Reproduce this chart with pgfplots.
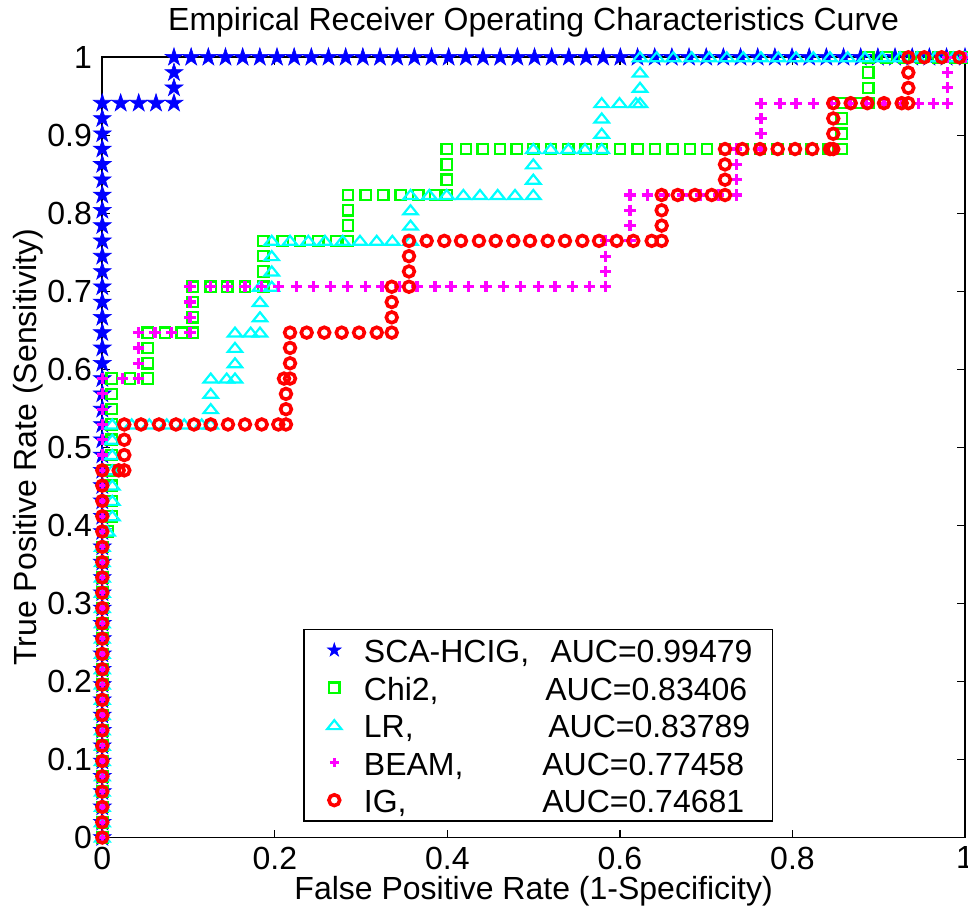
\documentclass[border=0pt]{standalone}
\usepackage{fontspec}
\setmainfont{Liberation Sans}
\usepackage{pgfplots}
\pgfplotsset{compat=1.18}
\usepackage{pgfplotstable}

\definecolor{mblue}{rgb}{0,0,1}
\definecolor{mgreen}{rgb}{0,1,0}
\definecolor{mcyan}{rgb}{0,1,1}
\definecolor{mmagenta}{rgb}{1,0,1}
\definecolor{mred}{rgb}{1,0,0}

% filled five-pointed star
\pgfdeclareplotmark{pentagram}{%
  \pgfpathmoveto{\pgfpointpolar{90}{\pgfplotmarksize}}%
  \pgfpathlineto{\pgfpointpolar{126}{0.382*\pgfplotmarksize}}%
  \pgfpathlineto{\pgfpointpolar{162}{\pgfplotmarksize}}%
  \pgfpathlineto{\pgfpointpolar{198}{0.382*\pgfplotmarksize}}%
  \pgfpathlineto{\pgfpointpolar{234}{\pgfplotmarksize}}%
  \pgfpathlineto{\pgfpointpolar{270}{0.382*\pgfplotmarksize}}%
  \pgfpathlineto{\pgfpointpolar{306}{\pgfplotmarksize}}%
  \pgfpathlineto{\pgfpointpolar{342}{0.382*\pgfplotmarksize}}%
  \pgfpathlineto{\pgfpointpolar{18}{\pgfplotmarksize}}%
  \pgfpathlineto{\pgfpointpolar{54}{0.382*\pgfplotmarksize}}%
  \pgfpathclose
  \pgfusepathqfillstroke
}
% open upward triangle, a little flatter than the built-in one
\pgfdeclareplotmark{flattri}{%
  \pgfpathmoveto{\pgfpoint{0pt}{0.7\pgfplotmarksize}}%
  \pgfpathlineto{\pgfpoint{-\pgfplotmarksize}{-0.55\pgfplotmarksize}}%
  \pgfpathlineto{\pgfpoint{\pgfplotmarksize}{-0.55\pgfplotmarksize}}%
  \pgfpathclose
  \pgfusepathqstroke
}

% ROC points (FPR, TPR)
\pgfplotstableread{
x y
0 0
0 0.0196
0 0.0392
0 0.0588
0 0.0784
0 0.0980
0 0.1176
0 0.1373
0 0.1569
0 0.1765
0 0.1961
0 0.2157
0 0.2353
0 0.2549
0 0.2745
0 0.2941
0 0.3137
0 0.3333
0 0.3529
0 0.3725
0 0.3922
0 0.4118
0 0.4314
0 0.4510
0 0.4706
0 0.4902
0 0.5098
0 0.5294
0 0.5490
0 0.5686
0 0.5882
0 0.6078
0 0.6275
0 0.6471
0 0.6667
0 0.6863
0 0.7059
0 0.7255
0 0.7451
0 0.7647
0 0.7843
0 0.8039
0 0.8235
0 0.8431
0 0.8627
0 0.8824
0 0.9020
0 0.9216
0 0.9412
0.0213 0.9412
0.0422 0.9412
0.0623 0.9412
0.0831 0.9412
0.0831 0.9608
0.0831 0.9804
0.0831 1
0.1030 1
0.1229 1
0.1428 1
0.1627 1
0.1826 1
0.2025 1
0.2224 1
0.2423 1
0.2622 1
0.2821 1
0.3020 1
0.3219 1
0.3418 1
0.3617 1
0.3816 1
0.4015 1
0.4214 1
0.4413 1
0.4612 1
0.4811 1
0.5010 1
0.5209 1
0.5408 1
0.5607 1
0.5806 1
0.6005 1
0.6204 1
0.6403 1
0.6602 1
0.6801 1
0.7000 1
0.7199 1
0.7398 1
0.7597 1
0.7796 1
0.7995 1
0.8194 1
0.8393 1
0.8592 1
0.8791 1
0.8990 1
0.9189 1
0.9388 1
0.9587 1
0.9786 1
1 1
}\scahcig

\pgfplotstableread{
x y
0 0
0 0.0196
0 0.0392
0 0.0588
0 0.0784
0 0.0980
0 0.1176
0 0.1373
0 0.1569
0 0.1765
0 0.1961
0 0.2157
0 0.2353
0 0.2549
0 0.2745
0 0.2941
0 0.3137
0 0.3333
0 0.3529
0 0.3725
0.006 0.3922
0.0109 0.4118
0.0109 0.4314
0.0109 0.4510
0.0109 0.4706
0.0109 0.4902
0.0109 0.5098
0.0109 0.5294
0.0109 0.5490
0.0109 0.5686
0.0109 0.5882
0.0321 0.5882
0.0527 0.5882
0.0527 0.6078
0.0527 0.6275
0.0527 0.6471
0.0727 0.6471
0.0920 0.6471
0.1048 0.6471
0.1048 0.6667
0.1048 0.6863
0.1048 0.7059
0.1257 0.7059
0.1449 0.7059
0.1654 0.7059
0.1866 0.7059
0.1866 0.7255
0.1866 0.7451
0.1866 0.7647
0.2091 0.7647
0.2292 0.7647
0.2504 0.7647
0.2709 0.7647
0.2848 0.7647
0.2848 0.7843
0.2848 0.8039
0.2848 0.8235
0.3053 0.8235
0.3257 0.8235
0.3459 0.8235
0.3663 0.8235
0.3857 0.8235
0.3992 0.8235
0.3992 0.8431
0.3992 0.8627
0.3992 0.8824
0.4216 0.8824
0.4409 0.8824
0.4610 0.8824
0.4804 0.8824
0.4996 0.8824
0.5201 0.8824
0.5402 0.8824
0.5603 0.8824
0.5792 0.8824
0.6001 0.8824
0.6206 0.8824
0.6407 0.8824
0.6612 0.8824
0.6812 0.8824
0.7010 0.8824
0.7218 0.8824
0.7421 0.8824
0.7624 0.8824
0.7827 0.8824
0.8030 0.8824
0.8223 0.8824
0.8416 0.8824
0.8571 0.8824
0.8571 0.9020
0.8571 0.9216
0.8571 0.9412
0.8771 0.9412
0.8879 0.9412
0.8879 0.9608
0.8879 0.9804
0.8879 1
0.9092 1
0.9293 1
0.9490 1
0.9693 1
0.9884 1
1 1
}\chitwo

\pgfplotstableread{
x y
0 0
0 0.0196
0 0.0392
0 0.0588
0 0.0784
0 0.0980
0 0.1176
0 0.1373
0 0.1569
0 0.1765
0 0.1961
0 0.2157
0 0.2353
0 0.2549
0 0.2745
0 0.2941
0 0.3137
0 0.3333
0 0.3529
0 0.3725
0.006 0.3922
0.0116 0.4118
0.0116 0.4314
0.0116 0.4510
0.0116 0.4706
0.0116 0.4902
0.0116 0.5098
0.0116 0.5294
0.0341 0.5294
0.0545 0.5294
0.0747 0.5294
0.0950 0.5294
0.1152 0.5294
0.1257 0.5294
0.1257 0.5490
0.1257 0.5686
0.1257 0.5882
0.1442 0.5882
0.1538 0.5882
0.1538 0.6078
0.1538 0.6275
0.1538 0.6471
0.1720 0.6471
0.1828 0.6471
0.1828 0.6667
0.1828 0.6863
0.1828 0.7059
0.1964 0.7059
0.1964 0.7255
0.1964 0.7451
0.1964 0.7647
0.2176 0.7647
0.2388 0.7647
0.2581 0.7647
0.2787 0.7647
0.2987 0.7647
0.3181 0.7647
0.3362 0.7647
0.3573 0.7647
0.3573 0.7843
0.3573 0.8039
0.3573 0.8235
0.3790 0.8235
0.3992 0.8235
0.4185 0.8235
0.4378 0.8235
0.4583 0.8235
0.4784 0.8235
0.4996 0.8235
0.4996 0.8431
0.4996 0.8627
0.4996 0.8824
0.5198 0.8824
0.5402 0.8824
0.5595 0.8824
0.5789 0.8824
0.5789 0.9020
0.5789 0.9216
0.5789 0.9412
0.5995 0.9412
0.6186 0.9412
0.6233 0.9412
0.6233 0.9608
0.6233 0.9804
0.6233 1
0.6426 1
0.6619 1
0.6832 1
0.7036 1
0.7238 1
0.7430 1
0.7635 1
0.7836 1
0.8041 1
0.8242 1
0.8435 1
0.8640 1
0.8841 1
0.9041 1
0.9247 1
0.9447 1
0.9652 1
0.9864 1
1 1
}\lrdata

\pgfplotstableread{
x y
0 0
0 0.0196
0 0.0392
0 0.0588
0 0.0784
0 0.0980
0 0.1176
0 0.1373
0 0.1569
0 0.1765
0 0.1961
0 0.2157
0 0.2353
0 0.2549
0 0.2745
0 0.2941
0 0.3137
0 0.3333
0 0.3529
0 0.3725
0 0.3922
0 0.4118
0 0.4314
0 0.4510
0 0.4706
0 0.4902
0 0.5098
0 0.5294
0 0.5490
0 0.5686
0 0.5882
0.0231 0.5882
0.0417 0.5882
0.0417 0.6078
0.0417 0.6275
0.0417 0.6471
0.0611 0.6471
0.0804 0.6471
0.1017 0.6471
0.1017 0.6667
0.1017 0.6863
0.1017 0.7059
0.1257 0.7059
0.1449 0.7059
0.1654 0.7059
0.1848 0.7059
0.2040 0.7059
0.2253 0.7059
0.2446 0.7059
0.2645 0.7059
0.2842 0.7059
0.3049 0.7059
0.3242 0.7059
0.3442 0.7059
0.3647 0.7059
0.3857 0.7059
0.4042 0.7059
0.4242 0.7059
0.4448 0.7059
0.4648 0.7059
0.4850 0.7059
0.5054 0.7059
0.5248 0.7059
0.5448 0.7059
0.5645 0.7059
0.5835 0.7059
0.5835 0.7255
0.5835 0.7451
0.5835 0.7647
0.6116 0.7647
0.6116 0.7843
0.6116 0.8039
0.6116 0.8235
0.6315 0.8235
0.6517 0.8235
0.6726 0.8235
0.6934 0.8235
0.7143 0.8235
0.7354 0.8235
0.7354 0.8431
0.7354 0.8627
0.7354 0.8824
0.7636 0.8824
0.7636 0.9020
0.7636 0.9216
0.7636 0.9412
0.7856 0.9412
0.8041 0.9412
0.8242 0.9412
0.8455 0.9412
0.8667 0.9412
0.8861 0.9412
0.9062 0.9412
0.9266 0.9412
0.9459 0.9412
0.9633 0.9412
0.9800 0.9412
0.9800 0.9608
0.9800 0.9804
0.9800 1
1 1
}\beam

\pgfplotstableread{
x y
0 0
0 0.0196
0 0.0392
0 0.0588
0 0.0784
0 0.0980
0 0.1176
0 0.1373
0 0.1569
0 0.1765
0 0.1961
0 0.2157
0 0.2353
0 0.2549
0 0.2745
0 0.2941
0 0.3137
0 0.3333
0 0.3529
0 0.3725
0 0.3922
0 0.4118
0 0.4314
0 0.4510
0 0.4706
0.0190 0.4706
0.0255 0.4706
0.0255 0.4902
0.0255 0.5098
0.0255 0.5294
0.0449 0.5294
0.0657 0.5294
0.0854 0.5294
0.1063 0.5294
0.1257 0.5294
0.1457 0.5294
0.1654 0.5294
0.1848 0.5294
0.2040 0.5294
0.2129 0.5294
0.2129 0.5490
0.2129 0.5686
0.2106 0.5882
0.2176 0.5882
0.2176 0.6078
0.2176 0.6275
0.2176 0.6471
0.2369 0.6471
0.2573 0.6471
0.2775 0.6471
0.2976 0.6471
0.3181 0.6471
0.3355 0.6471
0.3355 0.6667
0.3355 0.6863
0.3355 0.7059
0.3555 0.7059
0.3555 0.7255
0.3555 0.7451
0.3555 0.7647
0.3760 0.7647
0.3964 0.7647
0.4158 0.7647
0.4366 0.7647
0.4560 0.7647
0.4764 0.7647
0.4958 0.7647
0.5163 0.7647
0.5363 0.7647
0.5564 0.7647
0.5758 0.7647
0.5963 0.7647
0.6155 0.7647
0.6368 0.7647
0.6484 0.7647
0.6484 0.7843
0.6484 0.8039
0.6484 0.8235
0.6670 0.8235
0.6870 0.8235
0.7064 0.8235
0.7218 0.8235
0.7218 0.8431
0.7218 0.8627
0.7218 0.8824
0.7419 0.8824
0.7624 0.8824
0.7829 0.8824
0.8030 0.8824
0.8230 0.8824
0.8435 0.8824
0.8473 0.8824
0.8473 0.9020
0.8473 0.9216
0.8473 0.9412
0.8675 0.9412
0.8868 0.9412
0.9061 0.9412
0.9266 0.9412
0.9343 0.9412
0.9343 0.9608
0.9343 0.9804
0.9343 1
0.9528 1
0.9730 1
0.9934 1
}\igdata

\begin{document}
\begin{tikzpicture}
\begin{axis}[
  scale only axis,
  width=431.35pt, height=390.1pt,
  xmin=0, xmax=1, ymin=0, ymax=1,
  clip=false,
  axis line style={line width=0.9pt, black},
  tick align=inside, tick pos=both,
  major tick length=4pt,
  tick style={line width=0.6pt, black},
  xtick={0,0.2,0.4,0.6,0.8,1},
  ytick={0,0.1,0.2,0.3,0.4,0.5,0.6,0.7,0.8,0.9,1},
  /pgf/number format/assume math mode=true,
  tick label style={font=\fontsize{16}{19}\selectfont},
  xticklabel style={anchor=north, inner sep=0pt, yshift=-4.5pt},
  yticklabel style={anchor=east, inner sep=0pt, xshift=-5pt},
  label style={font=\fontsize{16}{19}\selectfont},
  title style={font=\fontsize{16}{19}\selectfont, at={(axis description cs:0.5,1.0186)}, anchor=base},
  xlabel style={at={(axis description cs:0.5,-0.079)}, anchor=base, inner sep=0pt},
  ylabel style={at={(axis description cs:-0.0765,0.5)}, anchor=base},
  title={Empirical Receiver Operating Characteristics Curve},
  xlabel={False Positive Rate (1-Specificity)},
  ylabel={True Positive Rate (Sensitivity)},
  legend cell align=left,
  legend image code/.code={%
    \path[draw=none] (0pt,0pt) (20pt,0pt);
    \draw[#1, draw=none] plot coordinates {(7.2pt,0pt)};},
  legend style={at={(axis cs:0.233,0.0203)}, anchor=south west,
    draw=black, line width=0.6pt, fill=white,
    font=\fontsize{16}{19}\selectfont,
    inner xsep=8pt, inner ysep=2.2pt, row sep=2.25pt,
    nodes={inner sep=2pt, text height=12.5pt, text depth=0pt}},
]
\addplot[only marks, mark=pentagram, mark size=4.7pt,
  mark options={fill=mblue, draw=mblue, line width=0.3pt},
  legend image post style={mark size=3.6pt}] table {\scahcig};
\addlegendentry{\makebox[93.3pt][l]{SCA-HCIG,}AUC=0.99479}
\addplot[only marks, mark=square, mark size=2.6pt,
  mark options={draw=mgreen, fill=none, line width=1.1pt}] table {\chitwo};
\addlegendentry{\makebox[90.7pt][l]{Chi2,}AUC=0.83406}
\addplot[only marks, mark=flattri, mark size=3.6pt,
  mark options={draw=mcyan, fill=none, line width=1.1pt}] table {\lrdata};
\addlegendentry{\makebox[92.2pt][l]{LR,}AUC=0.83789}
\addplot[only marks, mark=+, mark size=2.8pt,
  mark options={draw=mmagenta, line width=1.6pt},
  legend image post style={mark size=2.2pt}] table {\beam};
\addlegendentry{\makebox[89.2pt][l]{BEAM,}AUC=0.77458}
\addplot[only marks, mark=o, mark size=2.7pt,
  mark options={draw=mred, fill=none, line width=1.8pt}] table {\igdata};
\addlegendentry{\makebox[89.2pt][l]{IG,}AUC=0.74681}
\end{axis}
\pgfresetboundingbox
\useasboundingbox (-51.15pt,-34.25pt) rectangle (432.85pt,418.75pt);
\end{tikzpicture}
\end{document}
